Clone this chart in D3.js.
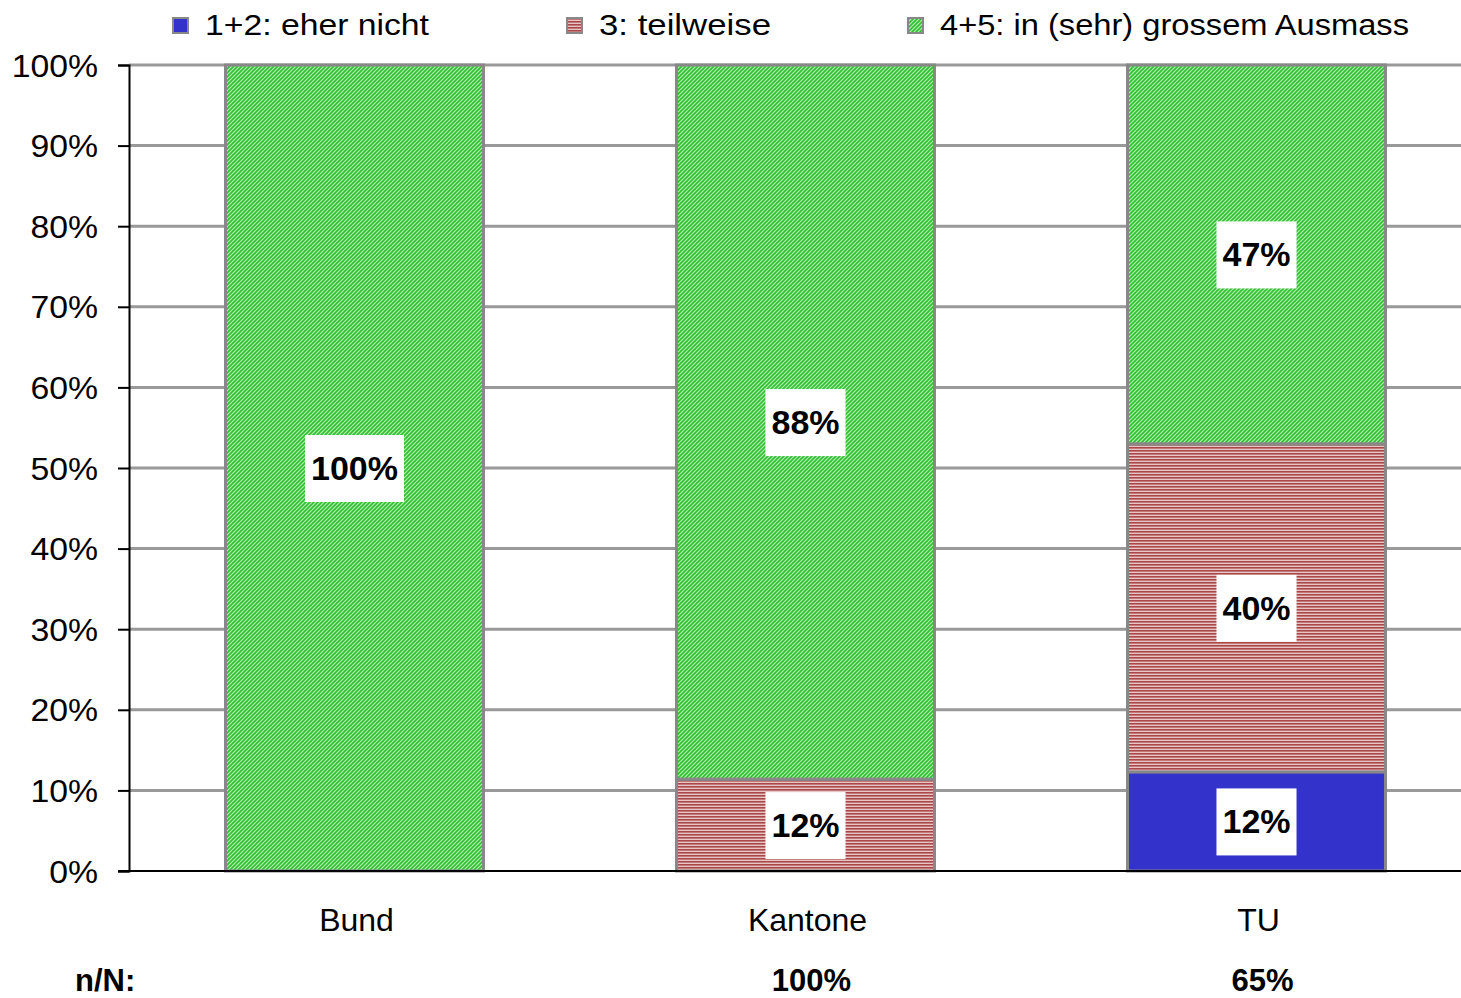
<!DOCTYPE html>
<html><head><meta charset="utf-8">
<script src="https://cdn.jsdelivr.net/npm/d3@7"></script>
<style>
html,body{margin:0;padding:0;background:#fff;}
svg{display:block;font-family:"Liberation Sans",Arial,sans-serif;}
</style></head>
<body>
<svg id="chart" width="1461" height="998"></svg>
<script>
const categories = ["Bund", "Kantone", "TU"];
const seriesNames = ["1+2: eher nicht", "3: teilweise", "4+5: in (sehr) grossem Ausmass"];
const seriesLow = [0, 0, 12.3];
const seriesMid = [0, 11.4, 40.7];
const seriesHigh = [100, 88.6, 47.0];
const labelsLow = ["", "", "12%"];
const labelsMid = ["", "12%", "40%"];
const labelsHigh = ["100%", "88%", "47%"];
const nN = ["", "100%", "65%"];
const yTicks = [0, 10, 20, 30, 40, 50, 60, 70, 80, 90, 100];

const svg = d3.select("#chart");
const defs = svg.append("defs");

// green diagonal pattern
const pg = defs.append("pattern").attr("id", "pGreen").attr("patternUnits", "userSpaceOnUse")
  .attr("width", 4).attr("height", 4);
pg.append("rect").attr("width", 4).attr("height", 4).attr("fill", "#b0eeb0");
pg.append("path").attr("d", "M-1,1 l2,-2 M0,4 l4,-4 M3,5 l2,-2").attr("stroke", "#2fbf2f").attr("stroke-width", 1.6);

// red horizontal stripes
const pr = defs.append("pattern").attr("id", "pRed").attr("patternUnits", "userSpaceOnUse")
  .attr("width", 4).attr("height", 3);
pr.append("rect").attr("width", 4).attr("height", 3).attr("fill", "#e8c4c4");
pr.append("rect").attr("y", 0).attr("width", 4).attr("height", 1.6).attr("fill", "#a84848");

const fills = ["#3333cc", "url(#pRed)", "url(#pGreen)"];

const x = d3.scaleBand().domain(categories).range([129, 1482]).paddingInner(0.428).paddingOuter(0.214);
const y = d3.scaleLinear().domain([0, 100]).range([871, 65]);

// gridlines
svg.append("g").selectAll("line").data(yTicks.filter(d => d > 0)).join("line")
  .attr("x1", 129).attr("x2", 1461).attr("y1", d => y(d)).attr("y2", d => y(d))
  .attr("stroke", "#999").attr("stroke-width", 3);

// y axis
const yAxis = svg.append("g").attr("transform", "translate(129,0)")
  .call(d3.axisLeft(y).tickValues(yTicks).tickFormat(d => d + "%").tickSize(11).tickPadding(0));
yAxis.select(".domain").attr("stroke", "#000").attr("stroke-width", 2);
yAxis.selectAll(".tick line").attr("stroke", "#000").attr("stroke-width", 2);
yAxis.selectAll(".tick text").attr("font-size", 31).attr("fill", "#000")
  .attr("font-family", "Liberation Sans, Arial, sans-serif")
  .attr("dy", "0.36em")
  .attr("transform", "scale(1.09,1)").attr("text-anchor", "end")
  .attr("x", -31 / 1.09);

// stacked bars
const stackData = categories.map((c, i) => ({cat: c, low: seriesLow[i], mid: seriesMid[i], high: seriesHigh[i]}));
const stack = d3.stack().keys(["low", "mid", "high"])(stackData);
const labelArrays = [labelsLow, labelsMid, labelsHigh];

const bw = x.bandwidth();
stack.forEach((layer, li) => {
  svg.append("g").selectAll("rect").data(layer.filter(d => d[1] - d[0] > 0)).join("rect")
    .attr("x", d => x(d.data.cat)).attr("width", bw)
    .attr("y", d => y(d[1])).attr("height", d => y(d[0]) - y(d[1]))
    .attr("fill", fills[li]).attr("stroke", "#888").attr("stroke-width", 3);
});

// bottom axis line
svg.append("line").attr("x1", 118).attr("x2", 1461).attr("y1", y(0)).attr("y2", y(0))
  .attr("stroke", "#000").attr("stroke-width", 2);

// value labels
stack.forEach((layer, li) => {
  layer.forEach((d, i) => {
    const txt = labelArrays[li][i];
    if (!txt) return;
    const cx = x(d.data.cat) + bw / 2;
    const cy = (y(d[0]) + y(d[1])) / 2;
    const g = svg.append("g");
    const t = g.append("text").attr("x", cx).attr("y", cy + 12).attr("text-anchor", "middle")
      .attr("font-size", 34).attr("font-weight", "bold").attr("fill", "#000").text(txt);
    const w = t.node().getComputedTextLength();
    g.insert("rect", "text").attr("x", cx - w / 2 - 6).attr("y", cy - 33).attr("width", w + 12).attr("height", 67)
      .attr("fill", "#fff");
  });
});

// category labels
svg.append("g").selectAll("text").data(categories).join("text")
  .attr("x", d => x(d) + bw / 2 + 2).attr("y", 931).attr("text-anchor", "middle")
  .attr("font-size", 32).attr("fill", "#000").text(d => d);

// n/N row
svg.append("text").attr("x", 75).attr("y", 991).attr("font-size", 31).attr("font-weight", "bold").text("n/N:");
svg.append("g").selectAll("text").data(categories).join("text")
  .attr("x", d => x(d) + bw / 2 + 6).attr("y", 991).attr("text-anchor", "middle")
  .attr("font-size", 31).attr("font-weight", "bold").text((d, i) => nN[i]);

// legend
const legX = [173, 567, 908];
const legTextW = [224, 172, 469];
const leg = svg.append("g");
seriesNames.forEach((s, i) => {
  leg.append("rect").attr("x", legX[i]).attr("y", 18).attr("width", 15).attr("height", 15)
    .attr("fill", fills[i]).attr("stroke", "#888").attr("stroke-width", 2);
  leg.append("text").attr("x", legX[i] + 32).attr("y", 35).attr("font-size", 29).attr("fill", "#000")
    .attr("textLength", legTextW[i]).attr("lengthAdjust", "spacingAndGlyphs").text(s);
});
</script>
</body></html>
